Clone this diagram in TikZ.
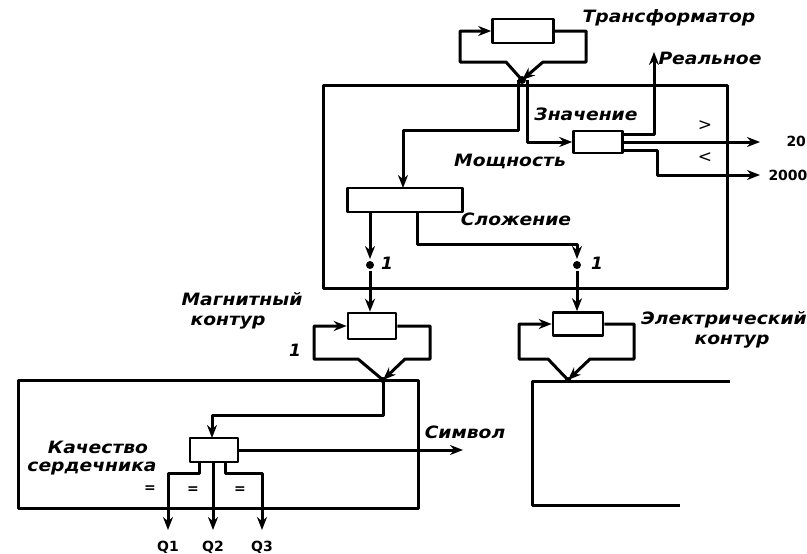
\documentclass[tikz,border=0pt]{standalone}
\usepackage{fontspec}
\usepackage{graphicx}
\setmainfont{DejaVu Sans}
\usetikzlibrary{arrows.meta}
\newcommand\wtx[1]{\scalebox{1.1}[1]{#1}}
\begin{document}
\begin{tikzpicture}[x=1pt,y=-1pt,line width=3pt,line join=round,
  blk/.style={draw,rectangle,inner sep=0pt,line width=2.6pt},
  arr/.style={-{Stealth[length=13pt,width=10pt]}},
  lbl/.style={font=\fontsize{17}{19}\selectfont\bfseries\itshape,inner sep=0pt},
  num/.style={font=\fontsize{14}{16}\selectfont\bfseries,inner sep=0pt},
  dot/.style={circle,fill,inner sep=0pt,minimum size=8pt},
]
\useasboundingbox (0,0) rectangle (807,554);
\clip (0,0) rectangle (807,554);
% frames
\draw (323,85) rectangle (727,288);
\draw (418,380) -- (18,380) -- (18,508) -- (418,508) -- cycle;
\draw (730,381) -- (532,381) -- (532,505) -- (680,505);
% blocks
\node[blk,minimum width=61pt,minimum height=24pt] (tr) at (523,31) {};
\node[blk,minimum width=49pt,minimum height=22pt] (zn) at (598,142) {};
\node[blk,minimum width=115pt,minimum height=24pt] (sl) at (405,200) {};
\node[blk,minimum width=48pt,minimum height=26pt] (mg) at (372,326) {};
\node[blk,minimum width=50pt,minimum height=23pt] (el) at (578,324) {};
\node[blk,minimum width=48pt,minimum height=24pt] (q) at (214,450) {};
% junctions
\node[dot] (j1) at (522,80) {};
\node[dot,minimum size=6pt] (j2) at (383,380) {};
\node[dot,minimum size=6pt] (j3) at (568,380) {};
% transformer loop
\draw[arr] (j1.center) -- (506,62) -- (460,62) -- (460,31) -- (tr.west);
\draw[arr] (tr.east) -- (586,31) -- (586,62) -- (543,62) -- (j1.center);
% from junction
\draw[arr] (518,80) -- (518,130) -- (403,130) -- (403,188);
\draw[arr] (527,80) -- (527,142) -- (zn.west);
% znachenie outputs
\coordinate (re) at (654,52);
\draw[arr] (623,134) -- (654,134) -- (re);
\coordinate (o1) at (760,142);
\coordinate (o2) at (760,175);
\draw[arr] (623,142) -- (o1);
\draw[arr] (623,150) -- (657,150) -- (657,175) -- (o2);
% slozhenie outputs
\node[dot] (d1) at (370,265) {};
\node[dot] (d2) at (577,265) {};
\draw[arr] (370,212) -- (370,259);
\draw[arr] (d1) -- (mg.north -| d1);
\draw[arr] (417,212) -- (417,244) -- (577,244) -- (577,259);
\draw[arr] (d2) -- (el.north -| d2);
% magnetic loop
\draw[arr] (j2.center) -- (358,359) -- (314,359) -- (314,326) -- (mg.west);
\draw[arr] (mg.east) -- (430,326) -- (430,359) -- (405,359) -- (j2.center);
% electric loop
\draw[arr] (j3.center) -- (548,359) -- (519,359) -- (519,324) -- (el.west);
\draw[arr] (el.east) -- (634,324) -- (634,359) -- (590,359) -- (j3.center);
% lower block
\draw[arr] (j2.center) -- (383,415) -- (212,415) -- (212,438);
\coordinate (sy) at (463,450);
\draw[arr] (q.east) -- (sy);
\coordinate (q1) at (168,530);
\coordinate (q2) at (213,530);
\coordinate (q3) at (262,530);
\draw[arr] (199,462) -- (199,473) -- (168,473) -- (q1);
\draw[arr] (213,462) -- (q2);
\draw[arr] (225,462) -- (225,473) -- (262,473) -- (q3);
% labels
\node[lbl] at (669,18) {\wtx{Трансформатор}};
\node[lbl] at (710,58) {\wtx{Реальное}};
\node[lbl] at (586,114) {\wtx{Значение}};
\node[lbl] at (510,161) {\wtx{Мощность}};
\node[lbl] at (516,219) {\wtx{Сложение}};
\node[num,font=\fontsize{17}{19}\selectfont\itshape] at (705,126) {>};
\node[num,font=\fontsize{17}{19}\selectfont\itshape] at (705,158) {<};
\node[num,anchor=west] at (785,141) {20};
\node[num,anchor=west] at (767,175) {2000};
\node[lbl] at (387,263) {1};
\node[lbl] at (597,263) {1};
\node[lbl] at (295,350) {1};
\node[lbl] at (242,299) {\wtx{Магнитный}};
\node[lbl] at (228,323) {\wtx{контур}};
\node[lbl] at (724,320) {\wtx{Электрический}};
\node[lbl] at (732,342) {\wtx{контур}};
\node[lbl] at (465,432) {\wtx{Символ}};
\node[lbl] at (98,447) {\wtx{Качество}};
\node[lbl] at (92,469) {\wtx{сердечника}};
\node[num] at (150,489) {=};
\node[num] at (193,490) {=};
\node[num] at (240,490) {=};
\node[num] at (168,547) {Q1};
\node[num] at (213,547) {Q2};
\node[num] at (262,547) {Q3};
\end{tikzpicture}
\end{document}
